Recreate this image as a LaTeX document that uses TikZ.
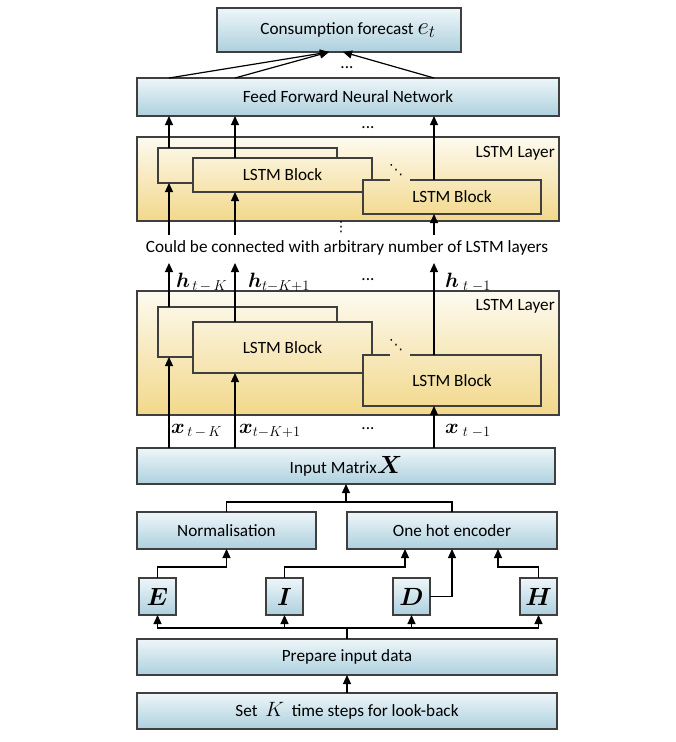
\documentclass[tikz,border=0pt]{standalone}
\usepackage{fontspec}
\usepackage{bm}
\setmainfont{Carlito}
\newfontfamily\dejavu{DejaVu Sans}
\usetikzlibrary{arrows.meta,calc}
\definecolor{linec}{HTML}{3F3F3F}
\definecolor{bluetop}{HTML}{EEF6F9}
\definecolor{bluebot}{HTML}{ADD0DE}
\definecolor{yeltop}{HTML}{FDFAF0}
\definecolor{yelbot}{HTML}{F2D88A}
\tikzset{
  bx/.style 2 args={minimum width=#1pt, minimum height=#2pt, inner sep=0pt, outer sep=0pt},
  bluebox/.style={draw=linec, line width=1.2pt, top color=bluetop, bottom color=bluebot, font=\fontsize{17.2}{19}\selectfont},
  layerbox/.style={draw=linec, line width=1.2pt, top color=yeltop, bottom color=yelbot},
  blk/.style={draw=none, font=\fontsize{17.2}{19}\selectfont},
  edge/.style={draw=linec, line width=1.2pt},
  arr/.style={draw=black, line width=1.2pt, -{Triangle[length=9pt,width=8pt]}},
  ln/.style={draw=black, line width=1.2pt},
  txt/.style={font=\fontsize{17.2}{19}\selectfont, inner sep=0pt},
  lbl/.style={font=\fontsize{21}{23}\selectfont, inner sep=0pt, anchor=west},
  letter/.style={font=\fontsize{25}{27}\selectfont},
  dotsym/.style={font=\dejavu\fontsize{14}{14}\selectfont, inner sep=0pt},
}
\begin{document}
\begin{tikzpicture}[x=1pt,y=-1pt]
\useasboundingbox[fill=white] (0,0) rectangle (676,742);
% column coordinates
\coordinate (c1) at (169,0);
\coordinate (c2) at (235,0);
\coordinate (c3) at (434,0);

% top boxes
\node[bluebox, bx={244}{44}] (cons) at (339,30) {\hspace{18pt}Consumption forecast \fontsize{27}{27}\selectfont$e_t$};
\node[bluebox, bx={422}{38}] (ffnn) at (348,97) {Feed Forward Neural Network};
\node[txt] (dots0) at (347,68) {...};

% upper LSTM layer
\node[layerbox, bx={422}{84}] (lay1) at (348,179) {};
\node[txt, anchor=east] (lay1t) at (555,153) {LSTM Layer};
\node[blk, bx={179}{35}] (bk1) at (247.5,165.5) {};
\node[blk, bx={179}{34}] (mid1) at (282.5,175) {LSTM Block};
\node[blk, bx={178}{34}] (rb1) at (452,197) {LSTM Block};
\draw[edge] (bk1.south -| mid1.west) -- (bk1.south west) -- (bk1.north west) -- (bk1.north east) -- (bk1.east |- mid1.north);
\draw[edge] (mid1.south -| rb1.west) -- (mid1.south west) -- (mid1.north west) -- (mid1.north east) -- (mid1.east |- rb1.north);
\draw[edge] ($(rb1.north west)+(27,0)$) -- (rb1.north west) -- (rb1.south west) -- (rb1.south east) -- (rb1.north east) -- ($(rb1.north west)+(47,0)$);
\node[dotsym] (dd1) at (396,170) {⋱};
\node[txt] (dots1) at (368,128) {...};

% arrows in upper part
\draw[arr] (bk1.north -| c1) -- (ffnn.south -| c1);
\draw[arr] (mid1.north -| c2) -- (ffnn.south -| c2);
\draw[arr] (rb1.north -| c3) -- (ffnn.south -| c3);
\draw[arr] (ffnn.north -| c1) -- ($(cons.south)+(-10,0)$);
\draw[arr] (ffnn.north -| c2) -- ($(cons.south)+(-10,0)$);
\draw[arr] (ffnn.north -| c3) -- ($(cons.south)+(4,0)$);

% connection text
\coordinate (u1) at (169,235);
\coordinate (u2) at (235,235);
\coordinate (u3) at (434,235);
\draw[arr] (u1) -- (bk1.south -| c1);
\draw[arr] (u2) -- (mid1.south -| c2);
\draw[arr] (u3) -- (rb1.south -| c3);
\node[dotsym] (vd) at (341,227) {⋮};
\node[txt] (conn) at (347,248) {Could be connected with arbitrary number of LSTM layers};

% lower LSTM layer
\node[layerbox, bx={422}{124}] (lay2) at (348,353) {};
\node[txt, anchor=east] (lay2t) at (555,306) {LSTM Layer};
\node[blk, bx={179}{50}] (bk2) at (247.5,332) {};
\node[blk, bx={179}{51}] (mid2) at (282.5,347.5) {LSTM Block};
\node[blk, bx={178}{51}] (rb2) at (452,380.5) {LSTM Block};
\draw[edge] (bk2.south -| mid2.west) -- (bk2.south west) -- (bk2.north west) -- (bk2.north east) -- (bk2.east |- mid2.north);
\draw[edge] (mid2.south -| rb2.west) -- (mid2.south west) -- (mid2.north west) -- (mid2.north east) -- (mid2.east |- rb2.north);
\draw[edge] ($(rb2.north west)+(27,0)$) -- (rb2.north west) -- (rb2.south west) -- (rb2.south east) -- (rb2.north east) -- ($(rb2.north west)+(47,0)$);
\node[dotsym] (dd2) at (396,345) {⋱};

\coordinate (h1) at (169,263);
\coordinate (h2) at (235,263);
\coordinate (h3) at (434,263);
\draw[arr] (bk2.north -| c1) -- (h1);
\draw[arr] (mid2.north -| c2) -- (h2);
\draw[arr] (rb2.north -| c3) -- (h3);
\node[lbl] (lh1) at (176,282) {$\bm{h}_{\,t\,-\,K}$};
\node[lbl] (lh2) at (248,282) {$\bm{h}_{t-K+1}$};
\node[txt] (dots2) at (368,280) {...};
\node[lbl] (lh3) at (445,282) {$\bm{h}_{\;t\;-1}$};

% input matrix
\node[bluebox, bx={418}{36}] (inp) at (346,466) {Input Matrix\fontsize{25}{25}\selectfont$\bm{X}$};
\draw[arr] (inp.north -| c1) -- (bk2.south -| c1);
\draw[arr] (inp.north -| c2) -- (mid2.south -| c2);
\draw[arr] (inp.north -| c3) -- (rb2.south -| c3);
\node[lbl] (lx1) at (171,431) {$\bm{x}_{\,t\,-\,K}$};
\node[lbl] (lx2) at (239,431) {$\bm{x}_{t-K+1}$};
\node[txt] (dots3) at (368,429) {...};
\node[lbl] (lx3) at (445,431) {$\bm{x}_{\;t\;-1}$};

% preprocessing
\node[bluebox, bx={179}{37}] (norm) at (226.5,530.5) {Normalisation};
\node[bluebox, bx={210}{37}] (oh) at (452,530.5) {One hot encoder};
\draw[ln] (norm.north) -- ++(0,-10) -| (oh.north);
\draw[arr] (346,502) coordinate (j1) -- (inp.south -| j1);

\node[bluebox, bx={37}{37}, letter] (E) at (157.5,596.5) {$\bm{E}$};
\node[bluebox, bx={37}{37}, letter] (I) at (284.5,596.5) {$\bm{I}$};
\node[bluebox, bx={37}{37}, letter] (D) at (411.5,596.5) {$\bm{D}$};
\node[bluebox, bx={37}{37}, letter] (H) at (538.5,596.5) {$\bm{H}$};

\draw[arr] (E.north) -- ++(0,-11) -| (norm.south);
\draw[arr] (I.north) -- ++(0,-11) -| ($(oh.south)+(-47,0)$);
\draw[arr] (D.east) -| (oh.south);
\draw[arr] (H.north) -- ++(0,-11) -| ($(oh.south)+(46,0)$);

\node[bluebox, bx={420}{36}] (prep) at (347,657) {Prepare input data};
\node[bluebox, bx={420}{36}] (setk) at (347,711) {Set \ \fontsize{22}{22}\selectfont$K$\fontsize{17.2}{19}\selectfont\ \ time steps for look-back};
\draw[ln] (prep.north) -- ++(0,-11) coordinate (bus);
\draw[arr] (bus) -| (E.south);
\draw[arr] (bus) -| (I.south);
\draw[arr] (bus) -| (D.south);
\draw[arr] (bus) -| (H.south);
\draw[arr] (setk.north) -- (prep.south);
\end{tikzpicture}
\end{document}
